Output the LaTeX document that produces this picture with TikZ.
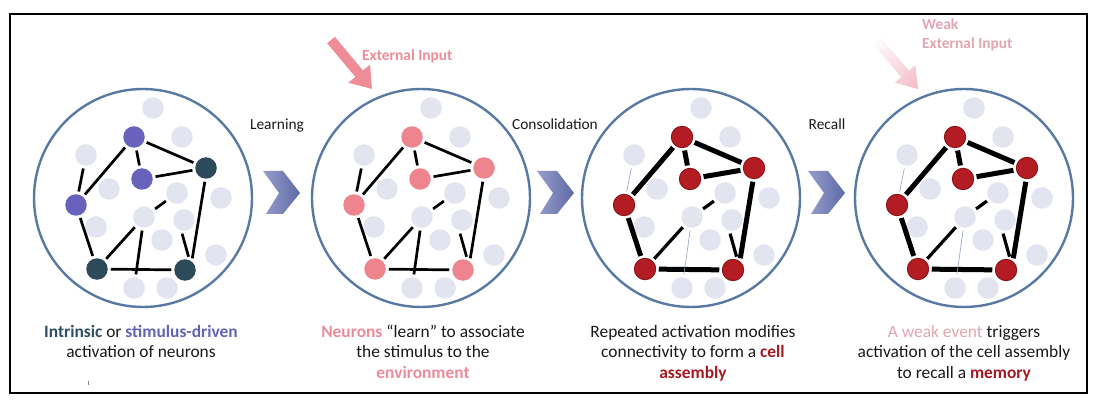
\documentclass[tikz,border=0pt]{standalone}
\usepackage{fontspec}
\setmainfont{Carlito}
\usetikzlibrary{arrows.meta,shadings}
\definecolor{ringblue}{RGB}{88,122,162}
\definecolor{ngray}{RGB}{226,228,240}
\definecolor{nblue}{RGB}{104,98,188}
\definecolor{nteal}{RGB}{44,74,90}
\definecolor{npink}{RGB}{238,132,142}
\definecolor{nred}{RGB}{178,28,34}
\definecolor{nredd}{RGB}{130,18,22}
\definecolor{cteal}{RGB}{45,80,100}
\definecolor{cblue}{RGB}{100,100,180}
\definecolor{cpink}{RGB}{235,140,155}
\definecolor{cred}{RGB}{165,25,35}
\definecolor{cweak}{RGB}{225,165,180}
\definecolor{arrpink}{RGB}{238,140,152}
\definecolor{weakpink}{RGB}{242,185,198}
\definecolor{chevL}{RGB}{150,158,205}
\definecolor{chevR}{RGB}{95,105,165}
\definecolor{txt}{RGB}{25,25,25}
\newcommand\neuronpanel[7]{%
\begin{scope}[shift={(#2,198)}]
\node[ring] (#1ring) at (0,0) {};
\foreach \n/\px/\py in {t1/10/-90, g2/39/-61, g3/-57/-43, g4/-34/-9, g5/34/-5, g6/78/0, g7/1/19, g8/41/22, g9/-47/29, g10/19/42, g11/73/57, g12/-9/90, g13/24/90}
  {\node[grayn] (#1\n) at (\px,\py) {};}
\node[#3] (#1A) at (-9,-61) {};
\node[#3] (#1C) at (-1,-19) {};
\node[#3] (#1D) at (-67,7) {};
\node[#4] (#1B) at (63,-30) {};
\node[#4] (#1E) at (-46,71) {};
\node[#4] (#1F) at (42,72) {};
\end{scope}
\draw[#5] (#1A)--(#1B) (#1A)--(#1C) (#1A)--(#1D) (#1C)--(#1B) (#1B.265)--(#1F.58) (#1D)--(#1E) (#1E)--(#1F);
\draw[#6] (#1E)--(#1g7) (#1g7)--(#1g5) (#1g8.262)--(#1F.75);
\draw[#7] (#1g3)--(#1D) (#1g7)--(#1g12);
}
\newcommand\chevron[1]{%
\shade[left color=chevL, right color=chevR] (#1,171) -- (#1+20,171) -- (#1+37,193) -- (#1+20,214) -- (#1+3,214) -- (#1+16,193) -- cycle;}
\begin{document}
\begin{tikzpicture}[x=1pt,y=-1pt,
  neuron/.style={circle, inner sep=0, minimum size=21.5pt, outer sep=3pt},
  grayn/.style={neuron, fill=ngray},
  bluen/.style={neuron, fill=nblue},
  tealn/.style={neuron, fill=nteal},
  pinkn/.style={neuron, fill=npink},
  redn/.style={neuron, fill=nred, draw=nredd, line width=0.8pt},
  ring/.style={circle, draw=ringblue, line width=2.4pt, minimum size=218pt, inner sep=0},
  syn/.style={draw=black, line width=2.7pt},
  synstrong/.style={draw=black, line width=5pt},
  synmid/.style={draw=black, line width=3.2pt},
  synweak/.style={draw=ringblue!70, line width=0.6pt},
  caption/.style={align=center, inner sep=0, text=txt, font={\fontsize{17.4}{20.5}\selectfont}},
  steplabel/.style={inner sep=0, text=txt, font={\fontsize{15.4}{18}\selectfont}},
  inlabel/.style={inner sep=0, font={\fontsize{15.4}{19}\selectfont\bfseries}, align=left}
]
\useasboundingbox (0,0) rectangle (1095,406);
\fill[white] (0,0) rectangle (1095,406);
\draw[line width=2.2pt] (10,14) rectangle (1087,393);

\neuronpanel{pa}{143}{bluen}{tealn}{syn}{syn}{syn}
\neuronpanel{pb}{421}{pinkn}{pinkn}{syn}{syn}{syn}
\neuronpanel{pc}{691}{redn}{redn}{synstrong}{synmid}{synweak}
\neuronpanel{pd}{964}{redn}{redn}{synstrong}{synmid}{synweak}

\chevron{263}
\chevron{537}
\chevron{808}

\node[steplabel, anchor=base] (lab1) at (277,130) {Learning};
\node[steplabel, anchor=base] (lab2) at (555,130) {Consolidation};
\node[steplabel, anchor=base] (lab3) at (827,130) {Recall};

\coordinate (ext1) at (331,40);
\coordinate (ext1tip) at (372,89);
\draw[arrpink, line width=10pt, -{Triangle[length=20pt,width=27pt]}] (ext1) -- (ext1tip);
\node[inlabel, text=arrpink, anchor=base west] (extlab) at (362,61) {External Input};

% weak input arrow, fading towards its tail
\shade[upper left=white, lower right=weakpink, upper right=weakpink!45, lower left=weakpink!45]
  (880.8,37.8) -- (908.8,70.6) -- (915.3,65.0) -- (918,89) -- (894.7,82.6) -- (901.2,77.1) -- (873.2,44.3) -- cycle;
\node[inlabel, text=cweak, anchor=base west] (weaklab) at (922,49) {Weak\\External Input};

\node[caption, anchor=base] (cap1) at (141,357.5) {\textcolor{cteal}{\bfseries Intrinsic} or \textcolor{cblue}{\bfseries stimulus-driven}\\activation of neurons};
\node[caption, anchor=base] (cap2) at (423,378) {\textcolor{cpink}{\bfseries Neurons} “learn” to associate\\the stimulus to the\\\textcolor{cpink}{\bfseries environment}};
\node[caption, anchor=base] (cap3) at (693,378) {Repeated activation modifies\\connectivity to form a \textcolor{cred}{\bfseries cell}\\\textcolor{cred}{\bfseries assembly}};
\node[caption, anchor=base] (cap4) at (964,378) {\textcolor{cweak}{A weak event} triggers\\activation of the cell assembly\\to recall a \textcolor{cred}{\bfseries memory}};

\draw[gray, line width=0.8pt] (88,381) -- (88,385);
\end{tikzpicture}
\end{document}
